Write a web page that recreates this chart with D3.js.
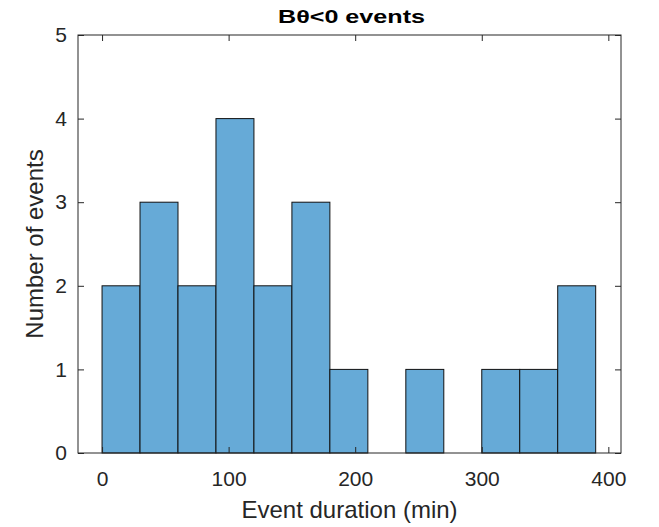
<!DOCTYPE html>
<html lang="en">
<head>
<meta charset="UTF-8">
<title>Btheta events</title>
<style>
    html, body { margin: 0; padding: 0; background: #fff; }
    svg { display: block; font-family: "Liberation Sans", Arial, sans-serif; }
</style>
</head>
<body>
<svg id="svg" width="659" height="527"></svg>
<script src="https://d3js.org/d3.v7.min.js"></script>
<script>
    // histogram bins (min), width 30
    const binEdges = [0, 30, 60, 90, 120, 150, 180, 210, 240, 270, 300, 330, 360, 390];
    const counts = [2, 3, 2, 4, 2, 3, 1, 0, 1, 0, 1, 1, 2];
    const xTicks = [0, 100, 200, 300, 400];
    const yTicks = [0, 1, 2, 3, 4, 5];

    const margin = { top: 35, right: 38, bottom: 74, left: 78 };
    const width = 659 - margin.left - margin.right;
    const height = 527 - margin.top - margin.bottom;
    const ink = '#262626';

    const bins = counts.map((c, i) => ({ x0: binEdges[i], x1: binEdges[i + 1], n: c }));

    const x = d3.scaleLinear().domain([-19, 410]).range([margin.left, margin.left + width]);
    const y = d3.scaleLinear().domain([0, 5]).range([margin.top + height, margin.top]);

    const svg = d3.select('#svg');

    // bars
    svg.append('g')
        .selectAll('rect')
        .data(bins.filter(d => d.n > 0))
        .join('rect')
        .attr('x', d => x(d.x0))
        .attr('y', d => y(d.n))
        .attr('width', d => x(d.x1) - x(d.x0))
        .attr('height', d => y(0) - y(d.n))
        .attr('fill', '#66AAD7')
        .attr('stroke', '#111')
        .attr('stroke-width', 1);

    function styleAxis(g, showText) {
        g.select('.domain').remove();
        g.selectAll('line').attr('stroke', ink);
        g.selectAll('text').attr('fill', ink).style('font-size', '21px');
        if (!showText) g.selectAll('text').remove();
    }

    svg.append('g')
        .attr('transform', `translate(0, ${margin.top + height})`)
        .call(d3.axisBottom(x).tickValues(xTicks).tickFormat(d3.format('d'))
            .tickSizeInner(-6).tickSizeOuter(0).tickPadding(18))
        .call(g => styleAxis(g, true));

    svg.append('g')
        .attr('transform', `translate(0, ${margin.top})`)
        .call(d3.axisTop(x).tickValues(xTicks).tickSizeInner(-6).tickSizeOuter(0))
        .call(g => styleAxis(g, false));

    svg.append('g')
        .attr('transform', `translate(${margin.left}, 0)`)
        .call(d3.axisLeft(y).tickValues(yTicks).tickFormat(d3.format('d'))
            .tickSizeInner(-6).tickSizeOuter(0).tickPadding(11))
        .call(g => styleAxis(g, true));

    svg.append('g')
        .attr('transform', `translate(${margin.left + width}, 0)`)
        .call(d3.axisRight(y).tickValues(yTicks).tickSizeInner(-6).tickSizeOuter(0))
        .call(g => styleAxis(g, false));

    // box
    svg.append('rect')
        .attr('x', margin.left)
        .attr('y', margin.top)
        .attr('width', width)
        .attr('height', height)
        .attr('fill', 'none')
        .attr('stroke', ink)
        .attr('stroke-width', 1);

    // labels
    svg.append('text')
        .attr('x', margin.left + width / 2)
        .attr('y', 518)
        .attr('text-anchor', 'middle')
        .attr('fill', ink)
        .style('font-size', '24px')
        .text('Event duration (min)');

    svg.append('text')
        .attr('transform', 'rotate(-90)')
        .attr('x', -(margin.top + height / 2))
        .attr('y', 43)
        .attr('text-anchor', 'middle')
        .attr('fill', ink)
        .style('font-size', '24px')
        .text('Number of events');

    svg.append('text')
        .attr('x', margin.left + width / 2 + 2)
        .attr('y', 23)
        .attr('text-anchor', 'middle')
        .attr('fill', '#000')
        .style('font-size', '19px')
        .style('font-weight', 'bold')
        .attr('textLength', 147)
        .attr('lengthAdjust', 'spacingAndGlyphs')
        .text('Bθ<0 events');
</script>
</body>
</html>
